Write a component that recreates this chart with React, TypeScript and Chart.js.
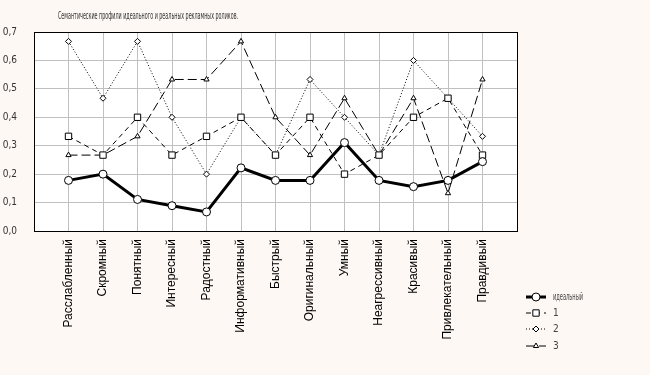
import React, { useEffect, useRef } from 'react';
import { Chart, registerables } from 'chart.js';

Chart.register(...registerables);

const chartTitle = 'Семантические профили идеального и реальных рекламных роликов.';
const categories = [
  'Расслабленный', 'Скромный', 'Понятный', 'Интересный', 'Радостный', 'Информативный',
  'Быстрый', 'Оригинальный', 'Умный', 'Неагрессивный', 'Красивый', 'Привлекательный', 'Правдивый',
];
const seriesNames = ['идеальный', '1', '2', '3'];
const idealValues = [0.178, 0.2, 0.111, 0.089, 0.067, 0.222, 0.178, 0.178, 0.311, 0.178, 0.156, 0.178, 0.244];
const series1Values = [0.333, 0.267, 0.4, 0.267, 0.333, 0.4, 0.267, 0.4, 0.2, 0.267, 0.4, 0.467, 0.267];
const series2Values = [0.667, 0.467, 0.667, 0.4, 0.2, 0.4, 0.267, 0.533, 0.4, 0.267, 0.6, 0.467, 0.333];
const series3Values = [0.267, 0.267, 0.333, 0.533, 0.533, 0.667, 0.4, 0.267, 0.467, 0.267, 0.467, 0.133, 0.533];
const yMin = 0;
const yMax = 0.7;
const yStep = 0.1;

const NARROW = "'Liberation Sans Narrow', 'DejaVu Sans Condensed', 'Arial Narrow', sans-serif";

const styles = [
  { width: 3, dash: [] as number[], point: 'circle', radius: 4 },
  { width: 1, dash: [5, 4], point: 'rect', radius: 4.5 },
  { width: 1, dash: [1, 2], point: 'rectRot', radius: 3 },
  { width: 1, dash: [9, 4], point: 'triangle', radius: 3 },
];

const pad = (arr: number[]) => [null, ...arr, null];

function drawMarker(ctx: CanvasRenderingContext2D, kind: string, r: number, x: number, y: number) {
  ctx.beginPath();
  if (kind === 'circle') {
    ctx.arc(x, y, r, 0, Math.PI * 2);
  } else if (kind === 'rect') {
    const s = r * Math.SQRT1_2;
    ctx.rect(x - s, y - s, 2 * s, 2 * s);
  } else if (kind === 'rectRot') {
    ctx.moveTo(x, y - r);
    ctx.lineTo(x + r, y);
    ctx.lineTo(x, y + r);
    ctx.lineTo(x - r, y);
    ctx.closePath();
  } else {
    const h = r * 1.5;
    ctx.moveTo(x, y - r);
    ctx.lineTo(x + r * 0.866 * 1.0, y + r * 0.5);
    ctx.lineTo(x - r * 0.866, y + r * 0.5);
    ctx.closePath();
    void h;
  }
  ctx.fillStyle = '#fff';
  ctx.fill();
  ctx.strokeStyle = '#000';
  ctx.lineWidth = 1;
  ctx.stroke();
}

const framePlugin = {
  id: 'frame',
  beforeDraw(chart: any) {
    const { ctx, chartArea: a } = chart;
    ctx.save();
    ctx.fillStyle = '#fdf8f3';
    ctx.fillRect(0, 0, chart.width, chart.height);
    ctx.fillStyle = '#ffffff';
    ctx.fillRect(a.left, a.top, a.right - a.left, a.bottom - a.top);
    ctx.restore();
  },
  afterDraw(chart: any) {
    const { ctx, chartArea: a } = chart;
    ctx.save();
    ctx.strokeStyle = '#000';
    ctx.lineWidth = 1;
    ctx.setLineDash([]);
    ctx.strokeRect(Math.round(a.left) + 0.5, Math.round(a.top) + 0.5, Math.round(a.right - a.left), Math.round(a.bottom - a.top));
    // title
    ctx.fillStyle = '#333';
    ctx.font = `10px ${NARROW}`;
    ctx.textBaseline = 'middle';
    ctx.textAlign = 'left';
    ctx.fillText(chartTitle, 58, 16, 180);
    // legend
    const ys = [297, 313, 329, 346];
    seriesNames.forEach((name, i) => {
      const s = styles[i];
      const y = ys[i];
      ctx.strokeStyle = '#000';
      ctx.lineWidth = s.width;
      ctx.setLineDash(s.dash);
      ctx.beginPath();
      ctx.moveTo(526, y);
      ctx.lineTo(546, y);
      ctx.stroke();
      ctx.setLineDash([]);
      drawMarker(ctx, s.point, s.radius, 536, y);
      ctx.fillStyle = '#444';
      ctx.font = `10px ${NARROW}`;
      ctx.textBaseline = 'middle';
      ctx.textAlign = 'left';
      if (name.length > 2) ctx.fillText(name, 553, y, 30);
      else ctx.fillText(name, 553, y);
    });
    ctx.restore();
  },
};

export default function App() {
  const ref = useRef<HTMLCanvasElement | null>(null);
  useEffect(() => {
    document.body.style.margin = '0';
    const canvas = ref.current;
    if (!canvas) return;
    const values = [idealValues, series1Values, series2Values, series3Values];
    const chart = new Chart(canvas, {
      type: 'line',
      data: {
        labels: ['', ...categories, ''],
        datasets: values.map((v, i) => ({
          label: seriesNames[i],
          data: pad(v),
          borderColor: '#000',
          backgroundColor: '#fff',
          borderWidth: styles[i].width,
          borderDash: styles[i].dash,
          pointStyle: styles[i].point as any,
          pointRadius: styles[i].radius,
          pointBorderWidth: 1,
          pointBorderColor: '#000',
          pointBackgroundColor: '#fff',
          tension: 0,
          fill: false,
        })),
      },
      options: {
        animation: false,
        responsive: false,
        maintainAspectRatio: false,
        layout: { padding: { top: 32, right: 133, left: 0, bottom: 0 } },
        plugins: { legend: { display: false }, tooltip: { enabled: false }, title: { display: false } },
        scales: {
          x: {
            type: 'category',
            offset: false,
            grid: { color: '#c0c0c0', drawTicks: false, lineWidth: 1 },
            border: { display: false },
            ticks: {
              autoSkip: false,
              minRotation: 90,
              maxRotation: 90,
              padding: 8,
              color: '#000',
              font: { family: "'Liberation Sans', Arial, sans-serif", size: 12 },
            },
            afterFit: (scale: any) => { scale.height = 144; },
          },
          y: {
            min: yMin,
            max: yMax,
            grid: { color: '#c0c0c0', drawTicks: false, lineWidth: 1 },
            border: { display: false },
            ticks: {
              stepSize: yStep,
              padding: 17,
              color: '#333',
              font: { family: NARROW, size: 10 },
              callback: (v: any) => Number(v).toFixed(1).replace('.', ','),
            },
            afterFit: (scale: any) => { scale.width = 34; },
          },
        },
      },
      plugins: [framePlugin],
    });
    return () => chart.destroy();
  }, []);
  return (
    <div style={{ position: 'absolute', left: 0, top: 0, width: 650, height: 375 }}>
      <canvas ref={ref} width={650} height={375} style={{ width: 650, height: 375, display: 'block' }} />
    </div>
  );
}
